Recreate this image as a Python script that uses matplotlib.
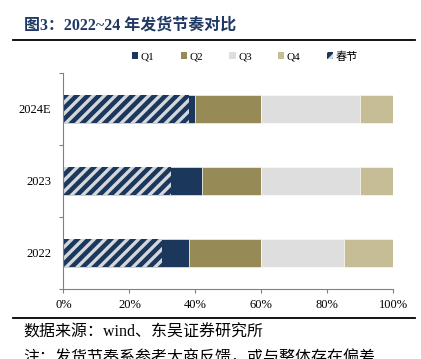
import matplotlib
matplotlib.use("Agg")
import matplotlib.pyplot as plt
from matplotlib.patches import Patch
from matplotlib.lines import Line2D

# 数据（按图读取，单位 %）
years = ['2022', '2023', '2024E']
q1 = [38, 42, 40]
q2 = [22, 18, 20]
q3 = [25, 30, 30]
q4 = [15, 10, 10]
chunjie = [30, 32.5, 38]

xticks = [0, 20, 40, 60, 80, 100]
xticklabels = ['0%', '20%', '40%', '60%', '80%', '100%']

navy = '#1b375c'
olive = '#968a56'
grey = '#dedede'
tan = '#c6bc95'
hatch_c = '#d4d8dc'

plt.rcParams['font.family'] = ['Liberation Serif', 'Noto Sans CJK SC']
plt.rcParams['hatch.linewidth'] = 2.4

fig = plt.figure(figsize=(4.21, 3.59), dpi=100)
ax = fig.add_axes([0.1508, 0.195, 0.7827, 0.6017])

ypos = list(range(len(years)))
h = 0.4
left = [0] * len(years)
for vals, col in [(q1, navy), (q2, olive), (q3, grey), (q4, tan)]:
    ax.barh(ypos, vals, left=left, height=h, color=col, edgecolor='white', linewidth=0.4)
    left = [a + b for a, b in zip(left, vals)]

# 春节部分叠加斜线
ax.barh(ypos, chunjie, height=h, facecolor=navy, edgecolor=hatch_c, linewidth=0, hatch='///')

ax.set_xlim(0, 100)
ax.set_ylim(-0.5, 2.5)
ax.set_xticks(xticks)
ax.set_xticklabels(xticklabels)
ax.set_yticks(ypos)
ax.set_yticklabels(years)
ax.set_yticks([-0.5, 0.5, 1.5, 2.5], minor=True)
ax.tick_params(axis='y', which='major', length=0, pad=9, labelsize=9)
ax.tick_params(axis='y', which='minor', length=3, color='#808080', width=0.8)
ax.tick_params(axis='x', length=3, color='#808080', width=0.8, labelsize=9, pad=4)
for s in ['top', 'right']:
    ax.spines[s].set_visible(False)
for s in ['left', 'bottom']:
    ax.spines[s].set_color('#808080')
    ax.spines[s].set_linewidth(0.8)

handles = [Patch(facecolor=navy, label='Q1'),
           Patch(facecolor=olive, label='Q2'),
           Patch(facecolor=grey, label='Q3'),
           Patch(facecolor=tan, label='Q4'),
           Patch(facecolor=navy, edgecolor=hatch_c, linewidth=0, hatch='///', label='春节')]
fig.legend(handles=handles, ncol=5, loc='center', bbox_to_anchor=(0.582, 0.843),
           frameon=False, fontsize=8, handlelength=0.55, handleheight=0.55,
           handletextpad=0.25, columnspacing=2.35)

# 标题与分隔线
fig.text(0.057, 0.93, '图3：2022~24 年发货节奏对比', fontsize=11.5, fontweight='bold',
         color='#1f3864', va='center', ha='left')
fig.add_artist(Line2D([0.031, 0.986], [0.889, 0.889], color='black', linewidth=1.3))
fig.add_artist(Line2D([0.031, 0.986], [0.114, 0.114], color='black', linewidth=1.3))
fig.text(0.055, 0.075, '数据来源：wind、东吴证券研究所', fontsize=11.5, va='center', ha='left')
fig.text(0.055, 0.003, '注：发货节奏系参考大商反馈，或与整体存在偏差', fontsize=11.5, va='center', ha='left')

plt.savefig('out.png', dpi=100)
